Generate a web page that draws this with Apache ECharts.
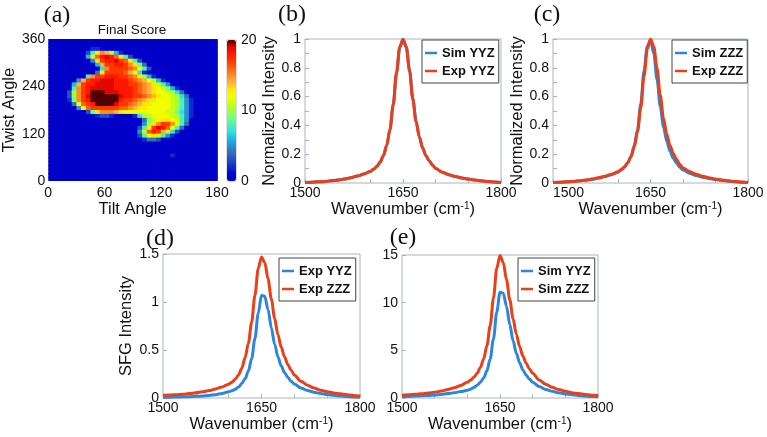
<!DOCTYPE html>
<html><head><meta charset="utf-8">
<script src="https://cdn.jsdelivr.net/npm/echarts@6/dist/echarts.min.js"></script>
<style>html,body{margin:0;padding:0;background:#fff}#c{width:767px;height:437px}</style>
</head><body><div id="c"></div>
<script>
const FONT = '"Liberation Sans", Arial, sans-serif';
const BLUE = '#2a86e0', RED = '#ea3f17', FRAME = '#aab4c4', TXT = '#111';

// ---------- spectra (x = wavenumber, cm-1) ----------
const wavenumber = [1500,1510,1520,1530,1540,1550,1560,1570,1580,1590,
  1600,1605,1610,1615,1620,1625,1630,1635,1640,1645,1650,1655,1660,1665,1670,1675,1680,1685,1690,1695,1700,
  1710,1720,1730,1740,1750,1760,1770,1780,1790,1800];
// (b)
const simYYZ_b = [0.004,0.006,0.008,0.011,0.015,0.02,0.027,0.036,0.048,0.062,
  0.08,0.095,0.115,0.145,0.19,0.26,0.37,0.54,0.76,0.94,1.00,0.95,0.79,0.59,0.43,0.32,0.245,0.19,0.155,0.125,0.10,
  0.075,0.058,0.045,0.035,0.027,0.02,0.015,0.01,0.007,0.004];
const expYYZ_b = [0.004,0.006,0.008,0.011,0.015,0.02,0.027,0.036,0.048,0.062,
  0.08,0.095,0.115,0.145,0.19,0.26,0.37,0.545,0.765,0.945,0.995,0.94,0.775,0.58,0.425,0.32,0.245,0.19,0.155,0.125,0.10,
  0.075,0.058,0.045,0.035,0.027,0.02,0.015,0.01,0.007,0.004];
// (c)
const simZZZ_c = [0.003,0.005,0.007,0.01,0.014,0.019,0.026,0.034,0.045,0.058,
  0.075,0.09,0.11,0.14,0.185,0.26,0.37,0.55,0.78,0.95,0.99,0.90,0.72,0.53,0.39,0.29,0.22,0.17,0.14,0.11,0.09,
  0.068,0.052,0.04,0.031,0.024,0.018,0.013,0.009,0.006,0.003];
const expZZZ_c = [0.004,0.006,0.008,0.011,0.015,0.02,0.027,0.036,0.047,0.061,
  0.078,0.093,0.112,0.14,0.183,0.25,0.355,0.52,0.74,0.93,1.00,0.95,0.80,0.61,0.45,0.34,0.26,0.205,0.165,0.13,0.105,
  0.08,0.061,0.047,0.036,0.028,0.021,0.015,0.011,0.007,0.004];
// (d)
const expYYZ_d = [0.008,0.009,0.01,0.012,0.014,0.017,0.021,0.027,0.035,0.047,
  0.064,0.076,0.092,0.115,0.15,0.2,0.28,0.41,0.62,0.88,1.07,1.06,0.92,0.73,0.56,0.43,0.335,0.265,0.215,0.175,0.145,
  0.105,0.078,0.06,0.046,0.036,0.028,0.021,0.015,0.011,0.007];
const expZZZ_d = [0.028,0.031,0.035,0.04,0.046,0.054,0.064,0.077,0.094,0.115,
  0.144,0.165,0.195,0.24,0.31,0.42,0.57,0.79,1.07,1.35,1.47,1.41,1.24,1.03,0.83,0.66,0.53,0.43,0.35,0.29,0.24,
  0.175,0.133,0.104,0.082,0.066,0.053,0.043,0.034,0.027,0.02];
// (e)
const simYYZ_e = [0.15,0.17,0.2,0.23,0.27,0.32,0.38,0.46,0.56,0.68,
  0.8,0.93,1.1,1.33,1.65,2.1,2.85,4.1,6.2,9.0,11.1,11.0,9.6,7.7,6.0,4.7,3.7,2.95,2.4,1.98,1.65,
  1.2,0.9,0.7,0.54,0.43,0.34,0.27,0.21,0.16,0.12];
const simZZZ_e = [0.3,0.34,0.39,0.45,0.52,0.61,0.73,0.88,1.07,1.32,
  1.65,1.88,2.17,2.6,3.2,4.1,5.5,7.6,10.5,13.6,14.95,14.2,12.4,10.3,8.3,6.7,5.4,4.4,3.65,3.05,2.6,
  1.9,1.45,1.12,0.88,0.7,0.56,0.46,0.37,0.3,0.25];

// ---------- tick labels ----------
const wnTicks = [1500,1650,1800];
const tiltTicks = [0,60,120,180];
const twistTicks = [0,120,240,360];
const scoreTicks = [0,10,20];

// ---------- Final score map: 36 rows (twist 360 at top -> 0), 36 cells of 5 deg tilt; 0-9, a=10 ... k=20 ----------
const tiltStep = 5, twistStep = 10;
const scoreRows = [
"000000000000000000000000000000000000",
"000000000000000000000000000000000000",
"000000000221000000000000000000000000",
"0000000038dfeb6200000000000000000000",
"000000006dgijigd83000000000000000000",
"0000000005dhiijhgd830000000000000000",
"00000000006ehhiihfd94000000000000000",
"000000000007fhhhhgfc8300000000000000",
"00000000004dhhhhgec72000000000000000",
"000000008fhhiiihhgfda620000000000000",
"0000005ehiijjjiiihgfeca6200000000000",
"000006ehiijjjjiiihhgfedb851000000000",
"000008fhijjjjjiiiihgfedcb96200000000",
"00003afhikkkjjjiiihgfedccba741000000",
"00003afhjkkkkkkjiihhgfedccba74100000",
"000029fhikkkkkkihhgfeddcccba85200000",
"000004cghikkkkjhhgfeddccccba85200000",
"0000005cghhhhhhggfeddcccccba85200000",
"0000000039dfffedcccccccccbb975200000",
"00000000012332100027abccccba85200000",
"0000000000000000000049bcddcb85100000",
"000000000000000000005adfhhfc84000000",
"000000000000000000038dhjigc841000000",
"00000000000000000005bgiheb7300000000",
"000000000000000000038cdb852000000000",
"000000000000000000002443100000000000",
"000000000000000000000000000000000000",
"000000000000000000000000000000000000",
"000000000000000000000000000000000000",
"000000000000000000000000002000000000",
"000000000000000000000000000000000000",
"000000000000000000000000000000000000",
"000000000000000000000000000000000000",
"000000000000000000000000000000000000",
"000000000000000000000000000000000000",
"000000000000000000000000000000000000"
];
const jetColors = ['#0000c8','#0008cc','#1028d4','#2050c8','#3070b8','#2890d8','#20b8e8','#30e0e0','#50f0b0','#70ff80','#a0ff40','#c8ff10','#f0ff00','#ffe800','#ffb040','#ff8c20','#ff6010','#ff3800','#ff1800','#e00800','#500000'];

function lev(ch){ return ch >= 'a' ? ch.charCodeAt(0) - 87 : +ch; }
const heatData = [];
scoreRows.forEach((row, r) => {
  const rb = scoreRows.length - 1 - r;
  for (let c = 0; c < row.length; c++) heatData.push([c * tiltStep + tiltStep / 2, rb * twistStep + twistStep / 2, lev(row[c])]);
});
const pairs = (arr) => wavenumber.map((w, i) => [w, arr[i]]);

const lbl = {fontSize: 14, fontFamily: FONT, color: TXT, formatter: (v) => String(v)};
const nameStyle = {fontSize: 16.5, fontFamily: FONT, color: TXT, rich: {s: {fontSize: 10, fontFamily: FONT, color: TXT, verticalAlign: 'top'}}};

function xAx(g, extra) {
  return {type: 'value', gridIndex: g, min: wnTicks[0], max: wnTicks[2], interval: wnTicks[1] - wnTicks[0],
    name: 'Wavenumber (cm{s|-1})', nameLocation: 'middle', nameGap: 15, nameTextStyle: nameStyle,
    axisLine: {show: false}, splitLine: {show: false},
    axisTick: {inside: true, length: 4, lineStyle: {color: FRAME}},
    minorTick: {show: true, splitNumber: 3, length: 4, lineStyle: {color: FRAME}},
    axisLabel: Object.assign({margin: 3}, lbl, extra || {})};
}
function yAx(g, max, interval, name, gap, minor) {
  return {type: 'value', gridIndex: g, min: 0, max: max, interval: interval,
    name: name, nameLocation: 'middle', nameGap: gap, nameTextStyle: nameStyle,
    axisLine: {show: false}, splitLine: {show: false},
    axisTick: {inside: true, length: 4, lineStyle: {color: FRAME}},
    minorTick: {show: !!minor, splitNumber: minor || 1, length: 4, lineStyle: {color: FRAME}},
    axisLabel: Object.assign({margin: 4}, lbl)};
}
function line(name, ai, data, color) {
  return {type: 'line', name: name, xAxisIndex: ai, yAxisIndex: ai, data: data, showSymbol: false, symbol: 'none',
    smooth: 0.3, smoothMonotone: 'x', lineStyle: {width: 3, color: color}, itemStyle: {color: color}, silent: true};
}
function legend(items, left, top) {
  return {orient: 'vertical', left: left, top: top, padding: [6, 4, 5, 3], itemGap: 4, itemWidth: 12, itemHeight: 2.5,
    icon: 'rect', borderColor: '#444', borderWidth: 1, backgroundColor: '#fff', selectedMode: false,
    textStyle: {fontSize: 13, fontWeight: 'bold', fontFamily: FONT, color: TXT, lineHeight: 14},
    data: items.map(([n, c]) => ({name: n, itemStyle: {color: c}}))};
}
function panelLabel(t, x, y) {
  return {type: 'text', x: x, y: y, style: {text: t, font: '24px "Liberation Serif"', fill: TXT, textAlign: 'center', textVerticalAlign: 'middle'}};
}

const option = {
  animation: false,
  backgroundColor: '#fff',
  grid: [
    {left: 48, top: 39, width: 169, height: 142},
    {left: 227, top: 40, width: 9, height: 141, show: true, borderColor: '#777', borderWidth: 0.5},
    {left: 305, top: 39, width: 196, height: 144, show: true, borderColor: FRAME, borderWidth: 1},
    {left: 553, top: 39, width: 195, height: 144, show: true, borderColor: FRAME, borderWidth: 1},
    {left: 163, top: 254, width: 197, height: 144, show: true, borderColor: FRAME, borderWidth: 1},
    {left: 402, top: 255, width: 196, height: 143, show: true, borderColor: FRAME, borderWidth: 1}
  ],
  xAxis: [
    {type: 'value', gridIndex: 0, min: tiltTicks[0], max: tiltTicks[3], interval: tiltTicks[1],
      name: 'Tilt Angle', nameLocation: 'middle', nameGap: 17, nameTextStyle: nameStyle,
      axisLine: {show: false}, splitLine: {show: false}, axisTick: {show: false},
      axisLabel: Object.assign({margin: 5}, lbl)},
    {type: 'value', gridIndex: 1, show: false, min: 0, max: 1},
    xAx(2), xAx(3, {alignMinLabel: 'left'}), xAx(4), xAx(5)
  ],
  yAxis: [
    {type: 'value', gridIndex: 0, min: twistTicks[0], max: twistTicks[3], interval: twistTicks[1],
      name: 'Twist Angle', nameLocation: 'middle', nameGap: 30, nameTextStyle: nameStyle,
      axisLine: {show: false}, splitLine: {show: false}, axisTick: {show: false},
      axisLabel: Object.assign({margin: 3}, lbl)},
    {type: 'value', gridIndex: 1, position: 'right', min: scoreTicks[0], max: scoreTicks[2], interval: scoreTicks[1],
      axisLine: {show: false}, splitLine: {show: false}, axisTick: {show: false},
      axisLabel: Object.assign({margin: 5}, lbl)},
    yAx(2, 1, 0.2, 'Normalized Intensity', 22, 2),
    yAx(3, 1, 0.2, 'Normalized Intensity', 22, 2),
    yAx(4, 1.5, 0.5, 'SFG Intensity', 28, 0),
    yAx(5, 15, 5, '', 20, 0)
  ],
  visualMap: {type: 'continuous', seriesIndex: 0, dimension: 2, min: scoreTicks[0], max: scoreTicks[2], inRange: {color: jetColors},
    left: 227, top: 40, itemWidth: 9, itemHeight: 141, padding: 0, calculable: false, hoverLink: false, orient: 'vertical'},
  legend: [
    legend([['Sim YYZ', BLUE], ['Exp YYZ', RED]], 422, 40),
    legend([['Sim ZZZ', BLUE], ['Exp ZZZ', RED]], 672, 40),
    legend([['Exp YYZ', BLUE], ['Exp ZZZ', RED]], 279, 258),
    legend([['Sim YYZ', BLUE], ['Sim ZZZ', RED]], 518, 258)
  ],
  graphic: [
    panelLabel('(a)', 57, 16), panelLabel('(b)', 292, 15), panelLabel('(c)', 547, 15),
    panelLabel('(d)', 160, 239), panelLabel('(e)', 403, 238),
    {type: 'text', x: 132, y: 30, style: {text: 'Final Score', font: '13.5px "Liberation Sans"', fill: TXT, textAlign: 'center', textVerticalAlign: 'middle'}}
  ],
  series: [
    {type: 'custom', xAxisIndex: 0, yAxisIndex: 0, data: heatData, silent: true, clip: true,
      renderItem: function (params, api) {
        const a = api.coord([api.value(0) - tiltStep / 2, api.value(1) + twistStep / 2]);
        const b = api.coord([api.value(0) + tiltStep / 2, api.value(1) - twistStep / 2]);
        return {type: 'rect', shape: {x: a[0], y: a[1], width: b[0] - a[0] + 0.8, height: b[1] - a[1] + 0.8},
          style: {fill: api.visual('color')}};
      }},
    line('Sim YYZ', 2, pairs(simYYZ_b), BLUE),
    line('Exp YYZ', 2, pairs(expYYZ_b), RED),
    line('Sim ZZZ', 3, pairs(simZZZ_c), BLUE),
    line('Exp ZZZ', 3, pairs(expZZZ_c), RED),
    line('Exp YYZ', 4, pairs(expYYZ_d), BLUE),
    line('Exp ZZZ', 4, pairs(expZZZ_d), RED),
    line('Sim YYZ', 5, pairs(simYYZ_e), BLUE),
    line('Sim ZZZ', 5, pairs(simZZZ_e), RED)
  ]
};
echarts.init(document.getElementById('c'), null, {renderer: 'canvas'}).setOption(option);
</script></body></html>
